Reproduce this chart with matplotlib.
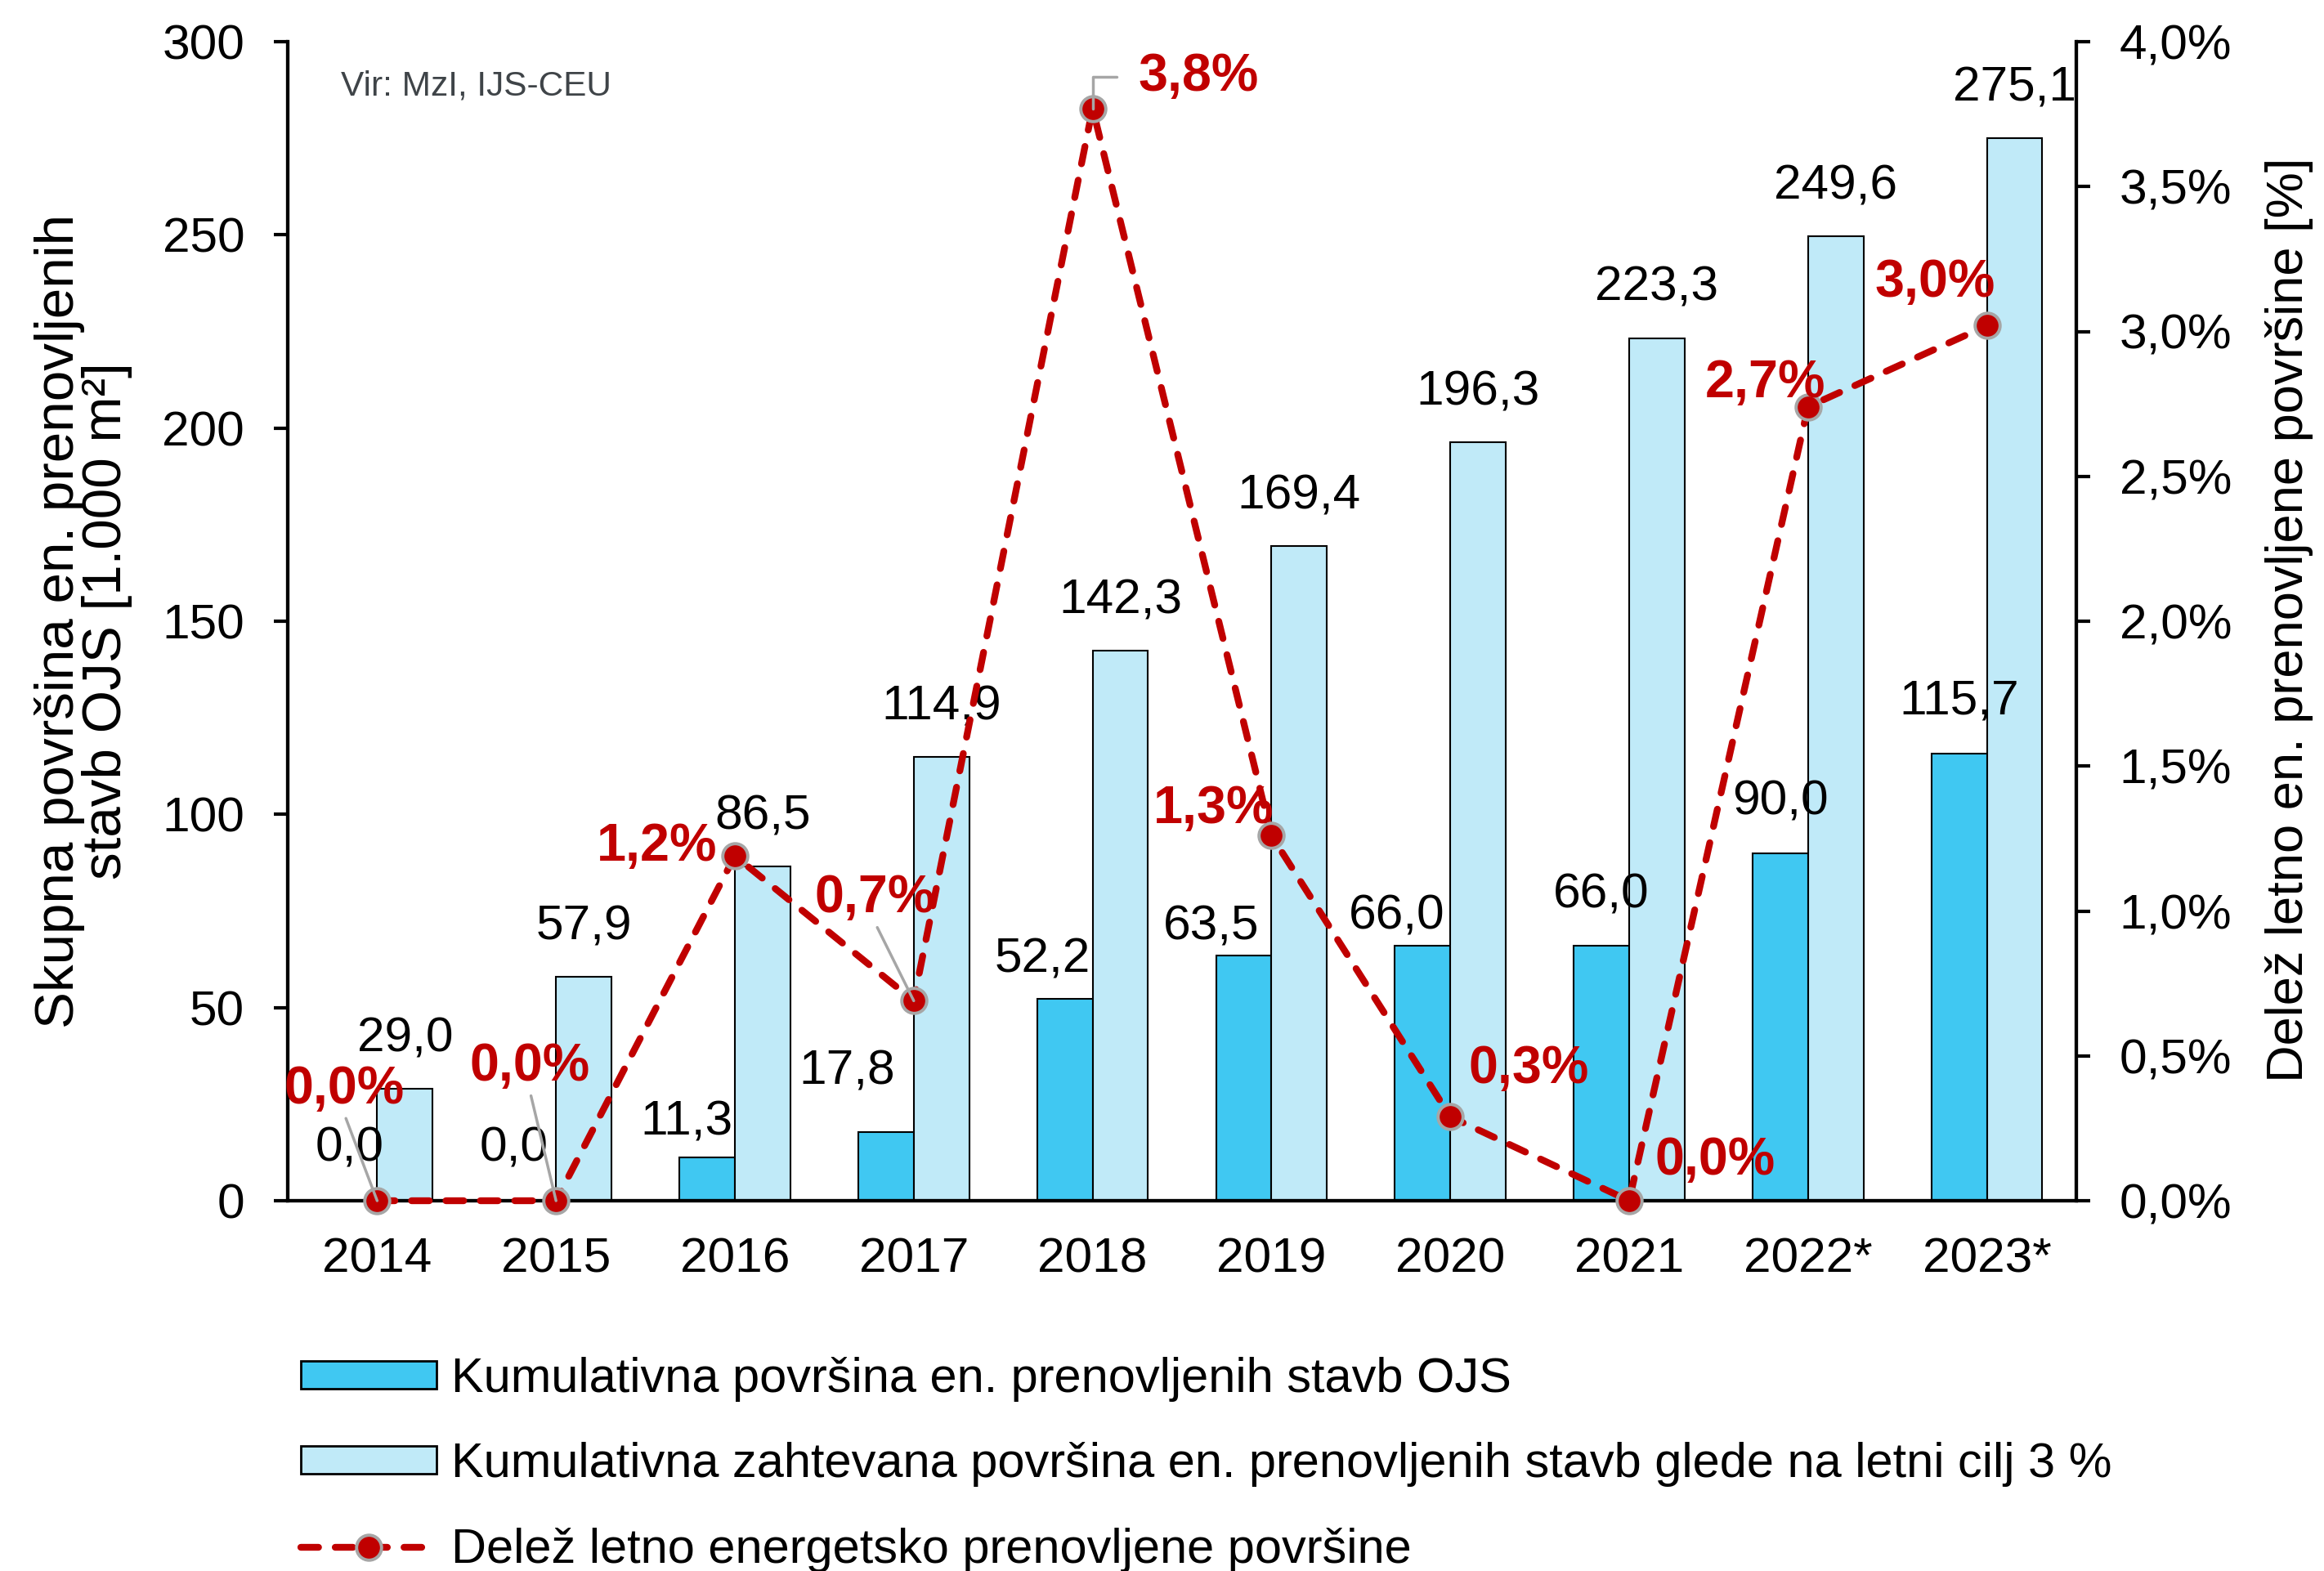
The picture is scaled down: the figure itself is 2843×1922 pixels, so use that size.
import matplotlib
matplotlib.use('Agg')
import matplotlib.pyplot as plt
from matplotlib.lines import Line2D
from matplotlib.patches import Patch
import numpy as np

plt.rcParams['font.family'] = ['Liberation Sans', 'DejaVu Sans']

# ---------------- data ----------------
years = ['2014', '2015', '2016', '2017', '2018', '2019', '2020', '2021', '2022*', '2023*']
renovated = [0.0, 0.0, 11.3, 17.8, 52.2, 63.5, 66.0, 66.0, 90.0, 115.7]
required = [29.0, 57.9, 86.5, 114.9, 142.3, 169.4, 196.3, 223.3, 249.6, 275.1]
share = [0.0, 0.0, 1.19, 0.69, 3.77, 1.26, 0.29, 0.0, 2.74, 3.02]

left_ticks = [0, 50, 100, 150, 200, 250, 300]
right_ticks = [0.0, 0.5, 1.0, 1.5, 2.0, 2.5, 3.0, 3.5, 4.0]

series_names = [
    'Kumulativna površina en. prenovljenih stavb OJS',
    'Kumulativna zahtevana površina en. prenovljenih stavb glede na letni cilj 3 %',
    'Delež letno energetsko prenovljene površine',
]
y_left_title = 'Skupna površina en. prenovljenih\nstavb OJS [1.000 m²]'
y_right_title = 'Delež letno en. prenovljene površine [%]'
source_text = 'Vir: MzI, IJS-CEU'

# ---------------- layout / style ----------------
dark_lbl_off = [(0, 46), (-13, 46), (-18, 31), (-34, 53), (-20, 35),
                (-29, 25), (-23, 26), (0, 45), (0, 45), (0, 46)]
light_lbl_off = (0, 44)
pct_lbl_off = [(-29, 98), (-23, 118), (-69, 8), (-34, 90), (93, 28),
               (-51, 23), (69, 42), (76, 35), (-38, 21), (-46, 38)]
leader_kind = ['straight', 'straight', None, 'straight', 'elbow',
               None, None, None, None, None]

C_DARK = '#40C8F2'
C_LIGHT = '#C0EAF8'
C_RED = '#C00000'
C_GREY = '#A6A6A6'
FS = 43.5
FS_LEG = 42.8
FS_TITLE_L = 48.5
FS_TITLE_R = 45.5
FS_PCT = 46.5


def fmt(v, dec=1):
    return f'{v:.{dec}f}'.replace('.', ',')


W, H = 2843, 1922
fig = plt.figure(figsize=(W / 100, H / 100), dpi=100)
ax = fig.add_axes([352 / W, 1 - 1469 / H, (2540 - 352) / W, (1469 - 51) / H])

x = np.arange(len(years))
bw = 0.31
ax.bar(x - bw / 2, renovated, bw, color=C_DARK, edgecolor='black', linewidth=1.5, zorder=2)
ax.bar(x + bw / 2, required, bw, color=C_LIGHT, edgecolor='black', linewidth=1.5, zorder=2)

for i, v in enumerate(renovated):
    ax.annotate(fmt(v), xy=(x[i] - bw / 2, v), xytext=dark_lbl_off[i], textcoords='offset points',
                ha='center', va='center', fontsize=FS, color='black', zorder=4)
for i, v in enumerate(required):
    ax.annotate(fmt(v), xy=(x[i] + bw / 2, v), xytext=light_lbl_off, textcoords='offset points',
                ha='center', va='center', fontsize=FS, color='black', zorder=4)

ax.set_xlim(-0.5, len(years) - 0.5)
ax.set_ylim(0, 300)
ax.set_yticks(left_ticks)
ax.set_yticklabels([str(t) for t in left_ticks])
ax.set_xticks(x)
ax.set_xticklabels(years)
ax.tick_params(axis='x', length=0, pad=32, labelsize=FS)
ax.tick_params(axis='y', length=12, width=3, pad=26, labelsize=FS, direction='out')
ax.spines['top'].set_visible(False)
for s in ['left', 'bottom', 'right']:
    ax.spines[s].set_linewidth(3)

ax2 = ax.twinx()
ax2.set_ylim(0, 4)
ax2.set_yticks(right_ticks)
ax2.set_yticklabels([fmt(t) + '%' for t in right_ticks])
ax2.tick_params(axis='y', length=12, width=3, pad=26, labelsize=FS, direction='out')
ax2.spines['top'].set_visible(False)
for s in ['left', 'bottom', 'right']:
    ax2.spines[s].set_linewidth(3)

line_kw = dict(color=C_RED, linewidth=6.0, linestyle=(0, (2.6, 2.45)), dash_capstyle='round',
               marker='o', markersize=22, markerfacecolor=C_RED, markeredgecolor=C_GREY,
               markeredgewidth=2.8)
ax2.plot(x, share, clip_on=False, zorder=3, **line_kw)

for i, v in enumerate(share):
    kw = dict(xy=(x[i], v), xytext=pct_lbl_off[i], textcoords='offset points',
              ha='center', va='center', fontsize=FS_PCT, fontweight='bold', color=C_RED, zorder=5)
    if leader_kind[i] == 'straight':
        kw['arrowprops'] = dict(arrowstyle='-', color=C_GREY, lw=2.5, shrinkA=2, shrinkB=0,
                                relpos=(0.5, 0))
    elif leader_kind[i] == 'elbow':
        kw['arrowprops'] = dict(arrowstyle='-', color=C_GREY, lw=2.5, shrinkA=17, shrinkB=0,
                                relpos=(0, 0.5),
                                connectionstyle='angle,angleA=0,angleB=90,rad=0')
    ax2.annotate(fmt(v) + '%', **kw)

fig.text(417 / W, 1 - 105 / H, source_text, fontsize=30.5, color='#3F4448', ha='left', va='center')
fig.text(102 / W, 1 - 760 / H, y_left_title, rotation=90, fontsize=FS_TITLE_L, ha='center', va='center',
         multialignment='center', linespacing=0.93)
fig.text(2801 / W, 1 - 758 / H, y_right_title, rotation=90, fontsize=FS_TITLE_R, ha='center', va='center')

handles = [
    Patch(facecolor=C_DARK, edgecolor='black', linewidth=2),
    Patch(facecolor=C_LIGHT, edgecolor='black', linewidth=2),
    Line2D([], [], **line_kw),
]
fig.legend(handles, series_names, loc='upper left', bbox_to_anchor=(368 / W, 1 - 1660 / H),
           frameon=False, fontsize=FS_LEG, handlelength=2.8, handleheight=0.49, handletextpad=0.3,
           labelspacing=0.83, borderaxespad=0, borderpad=0)

fig.savefig('out.png', dpi=100)
